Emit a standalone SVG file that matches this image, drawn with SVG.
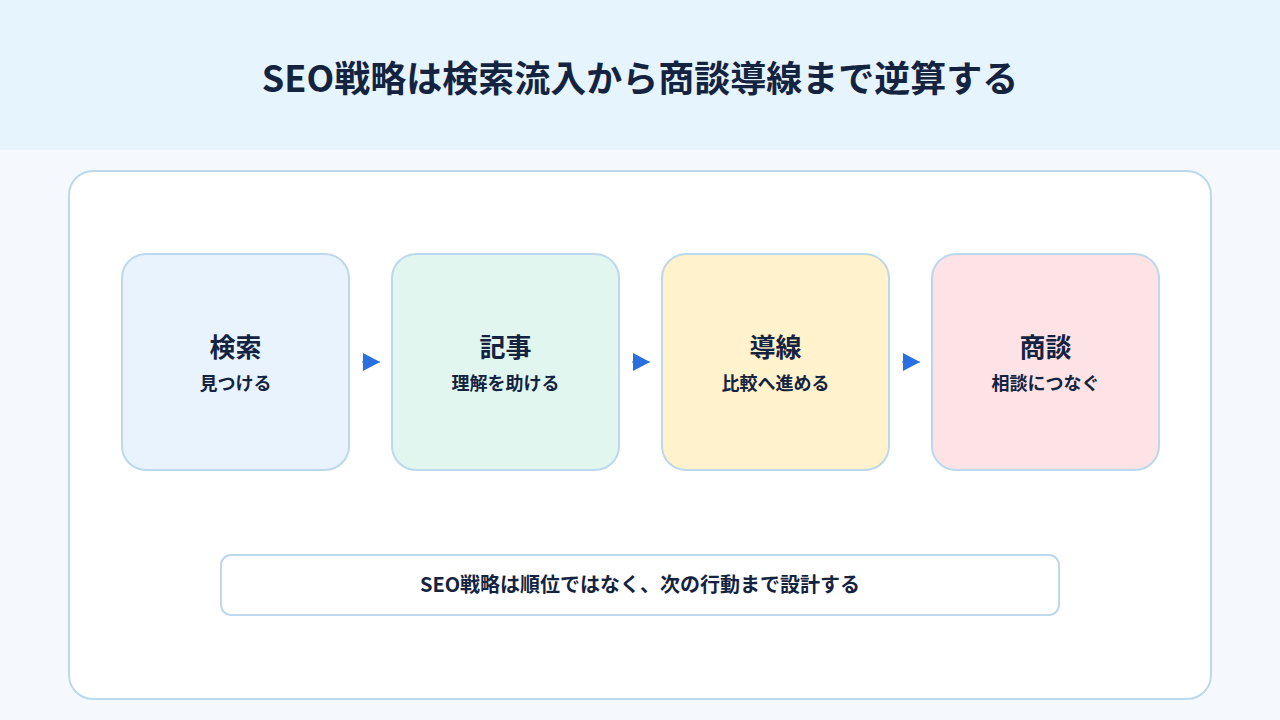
<svg xmlns="http://www.w3.org/2000/svg" width="1280" height="720" viewBox="0 0 1280 720">
<style>
text{font-family:"Noto Sans CJK JP","Noto Sans",sans-serif;fill:#14233f;font-weight:700;text-anchor:middle}
.n{stroke:#bcd8ea;stroke-width:2}
.t{font-size:26px}.s{font-size:18px}
</style>
<defs><marker id="a" markerWidth="10" markerHeight="10" refX="9" refY="5" orient="auto" markerUnits="userSpaceOnUse"><path d="M0,0L10,5L0,10z" fill="#2a6fe0"/></marker>
<marker id="b" markerWidth="18" markerHeight="18" refX="17" refY="9" orient="auto" markerUnits="userSpaceOnUse"><path d="M0,0L17,9L0,18z" fill="#2a6fe0"/></marker></defs>
<rect width="1280" height="720" fill="#f5f9fd"/>
<rect width="1280" height="150" fill="#e6f4fd"/>
<text x="640" y="92" style="font-size:36px">SEO戦略は検索流入から商談導線まで逆算する</text>
<rect x="69" y="171" width="1142" height="528" rx="24" fill="#fff" stroke="#bcd8ea" stroke-width="2"/>
<g id="n1"><rect class="n" x="122" y="254" width="227" height="216" rx="24" fill="#e8f3fd"/><text class="t" x="235.5" y="357">検索</text><text class="s" x="235.5" y="390">見つける</text></g>
<g id="n2"><rect class="n" x="392" y="254" width="227" height="216" rx="24" fill="#e0f6ef"/><text class="t" x="505.5" y="357">記事</text><text class="s" x="505.5" y="390">理解を助ける</text></g>
<g id="n3"><rect class="n" x="662" y="254" width="227" height="216" rx="24" fill="#fff2cc"/><text class="t" x="775.5" y="357">導線</text><text class="s" x="775.5" y="390">比較へ進める</text></g>
<g id="n4"><rect class="n" x="932" y="254" width="227" height="216" rx="24" fill="#fde2e6"/><text class="t" x="1045.5" y="357">商談</text><text class="s" x="1045.5" y="390">相談につなぐ</text></g>
<g id="edges" stroke="#2a6fe0" stroke-width="1">
<line x1="362" y1="362" x2="380" y2="362" marker-end="url(#b)"/>
<line x1="632" y1="362" x2="650" y2="362" marker-end="url(#b)"/>
<line x1="902" y1="362" x2="920" y2="362" marker-end="url(#b)"/>
</g>
<g id="note"><rect x="221" y="555" width="838" height="60" rx="10" fill="#fff" stroke="#bcd8ea" stroke-width="2"/><text x="640" y="592" style="font-size:20px">SEO戦略は順位ではなく、次の行動まで設計する</text></g>
</svg>
